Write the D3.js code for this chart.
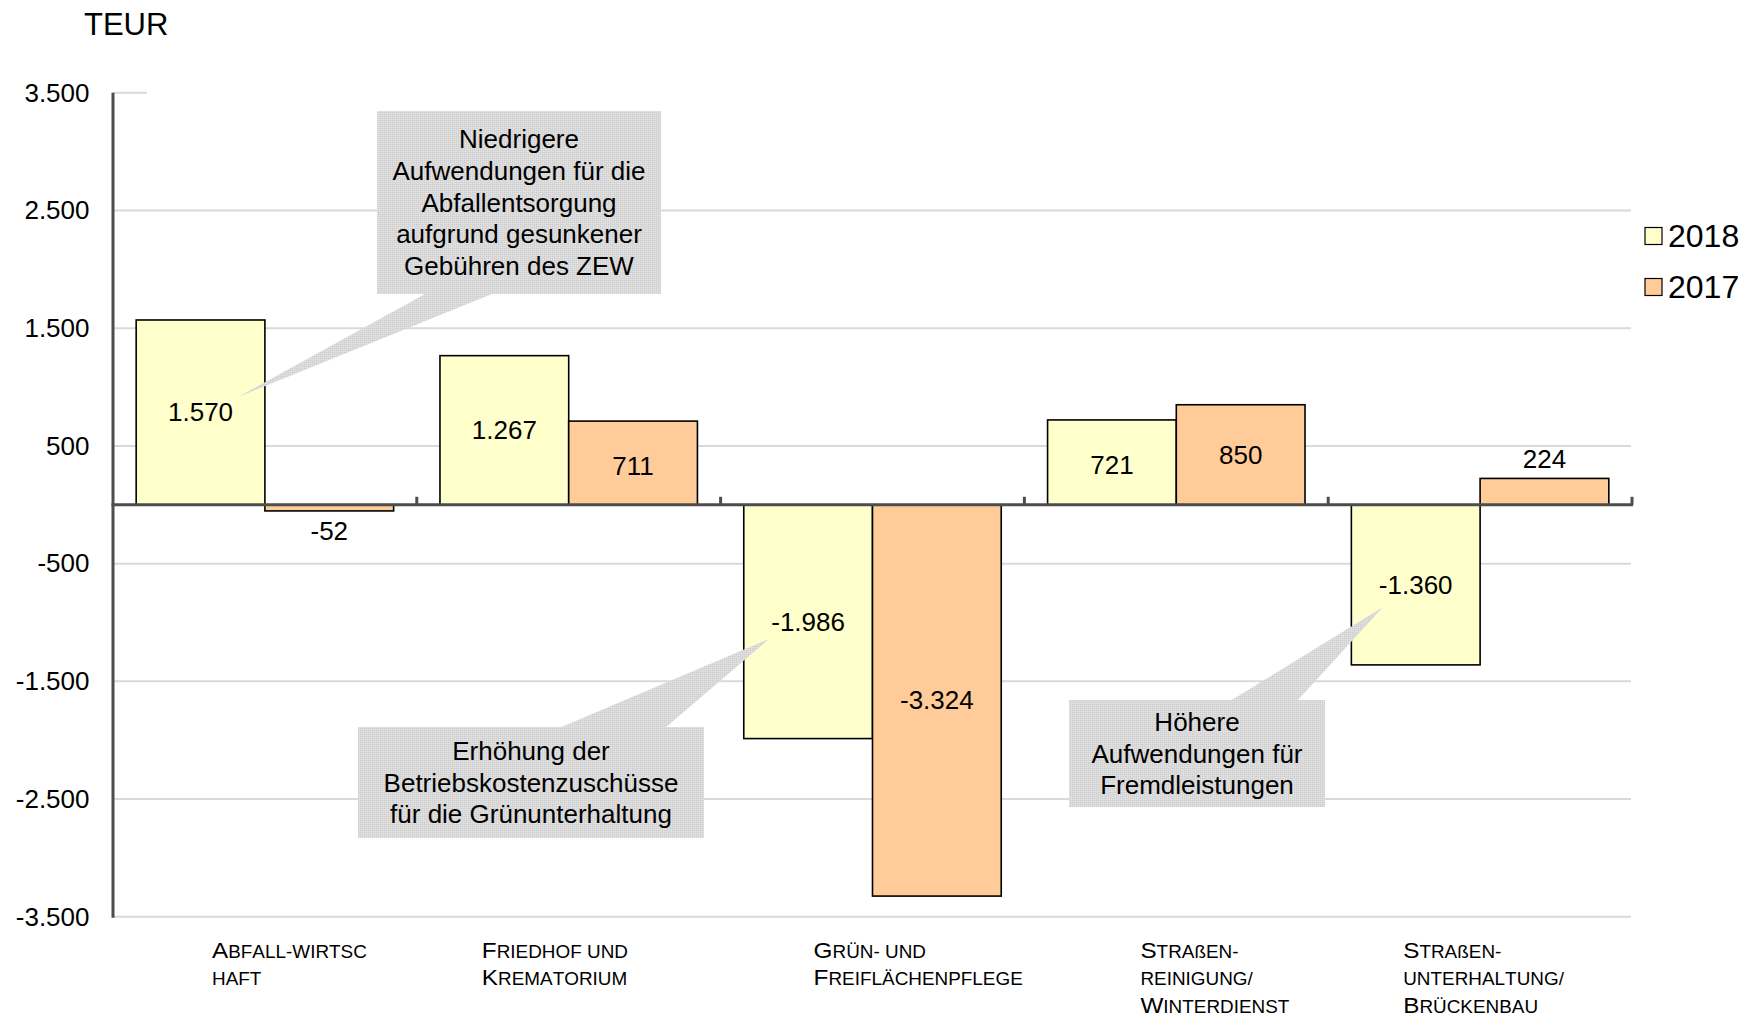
<!DOCTYPE html>
<html>
<head>
<meta charset="utf-8">
<script src="https://cdn.jsdelivr.net/npm/d3@7"></script>
<style>
  html, body { margin: 0; padding: 0; background: #ffffff; }
  svg { display: block; }
  text { font-family: "Liberation Sans", Arial, sans-serif; fill: #000; }
</style>
</head>
<body>
<svg id="chart" width="1753" height="1019"></svg>
<script>
// ---------- data ----------
const categories = [
  "Abfall-wirtschaft",
  "Friedhof und Krematorium",
  "Grün- und Freiflächenpflege",
  "Straßen-reinigung/ Winterdienst",
  "Straßen-unterhaltung/ Brückenbau"
];
const categoryLines = [
  ["Abfall-wirtsc", "haft"],
  ["Friedhof und", "Krematorium"],
  ["Grün- und", "Freiflächenpflege"],
  ["Straßen-", "reinigung/", "Winterdienst"],
  ["Straßen-", "unterhaltung/", "Brückenbau"]
];
const seriesNames = ["2018", "2017"];
const values2018 = [1570, 1267, -1986, 721, -1360];
const values2017 = [-52, 711, -3324, 850, 224];
const yTickValues = [-3500, -2500, -1500, -500, 500, 1500, 2500, 3500];
const unitLabel = "TEUR";
const callouts = [
  ["Niedrigere", "Aufwendungen für die", "Abfallentsorgung", "aufgrund gesunkener", "Gebühren des ZEW"],
  ["Erhöhung der", "Betriebskostenzuschüsse", "für die Grünunterhaltung"],
  ["Höhere", "Aufwendungen für", "Fremdleistungen"]
];

// ---------- layout / style ----------
const colors = { "2018": "#FFFFCC", "2017": "#FFCC99" };
const plot = { left: 113, right: 1632, top: 92.8, bottom: 916.8 };
const labelOffsets = [99, 65, 93, 116, 75];   // x offset of category labels inside band
const calloutBoxes = [
  { x: 377, y: 111, w: 284, h: 183, ptr: [[425, 294], [492, 294], [238, 397]] },
  { x: 358, y: 727, w: 346, h: 111, ptr: [[559, 728], [665, 728], [769, 639]] },
  { x: 1069, y: 700, w: 256, h: 107, ptr: [[1230, 701], [1297, 701], [1383, 607]] }
];

const svg = d3.select("#chart");
const de = d3.formatLocale({ decimal: ",", thousands: ".", grouping: [3], currency: ["", " €"], minus: "-" });
const fmt = de.format(",d");

const y = d3.scaleLinear().domain([-3500, 3500]).range([plot.bottom, plot.top]);
const x0 = d3.scaleBand().domain(categories).range([plot.left, plot.right]).paddingInner(0).paddingOuter(0);
const x1 = d3.scaleBand().domain(seriesNames).range([0, x0.bandwidth()]).paddingInner(0).paddingOuter(0.18);

// pattern for callout texture
const defs = svg.append("defs");
const pat = defs.append("pattern").attr("id", "dither").attr("width", 2).attr("height", 2)
  .attr("patternUnits", "userSpaceOnUse");
pat.append("rect").attr("width", 2).attr("height", 2).attr("fill", "#dadada");
pat.append("rect").attr("width", 1).attr("height", 1).attr("fill", "#cfcfcf");
pat.append("rect").attr("x", 1).attr("y", 1).attr("width", 1).attr("height", 1).attr("fill", "#e2e2e2");

// ---------- gridlines ----------
const grid = svg.append("g");
yTickValues.forEach(v => {
  const short = v === 3500;
  grid.append("line")
    .attr("x1", plot.left).attr("x2", short ? plot.left + 34 : plot.right - 1)
    .attr("y1", y(v)).attr("y2", y(v))
    .attr("stroke", "#d9d9d9").attr("stroke-width", 2);
});

// ---------- y axis (labels only) ----------
const yAxis = d3.axisLeft(y).tickValues(yTickValues).tickFormat(fmt).tickSize(0).tickPadding(0);
const gy = svg.append("g").attr("transform", `translate(${plot.left - 23.5},0)`).call(yAxis);
gy.select(".domain").remove();
gy.selectAll("text").style("font-size", "26px").style("font-family", '"Liberation Sans", Arial, sans-serif')
  .attr("fill", "#000");

// unit label
svg.append("text").attr("x", 84).attr("y", 34.5).style("font-size", "31px").text(unitLabel);

// ---------- bars ----------
const rows = categories.map((c, i) => ({ cat: c, vals: [
  { s: "2018", v: values2018[i] }, { s: "2017", v: values2017[i] }] }));

const groups = svg.append("g").selectAll("g").data(rows).join("g")
  .attr("transform", d => `translate(${x0(d.cat)},0)`);

groups.selectAll("rect").data(d => d.vals).join("rect")
  .attr("x", d => x1(d.s))
  .attr("width", x1.bandwidth())
  .attr("y", d => y(Math.max(0, d.v)))
  .attr("height", d => Math.abs(y(d.v) - y(0)))
  .attr("fill", d => colors[d.s])
  .attr("stroke", "#000").attr("stroke-width", 1.6);

// ---------- callouts ----------
const cg = svg.append("g");
calloutBoxes.forEach((b, i) => {
  cg.append("polygon").attr("points", b.ptr.map(p => p.join(",")).join(" ")).attr("fill", "url(#dither)");
  cg.append("rect").attr("x", b.x).attr("y", b.y).attr("width", b.w).attr("height", b.h).attr("fill", "url(#dither)");
  const lines = callouts[i];
  const lh = 31.8;
  const cy = b.y + b.h / 2;
  lines.forEach((t, j) => {
    cg.append("text")
      .attr("x", b.x + b.w / 2)
      .attr("y", cy + (j - (lines.length - 1) / 2) * lh)
      .attr("text-anchor", "middle").attr("dominant-baseline", "central")
      .style("font-size", "26px").text(t);
  });
});

// ---------- value labels ----------
groups.selectAll("text.val").data(d => d.vals).join("text").attr("class", "val")
  .attr("x", d => x1(d.s) + x1.bandwidth() / 2)
  .attr("y", d => {
    const h = Math.abs(y(d.v) - y(0));
    if (h > 45) return (y(d.v) + y(0)) / 2 + (h < 100 ? 3 : 0);
    return d.v < 0 ? y(d.v) + 20 : y(d.v) - 19;
  })
  .attr("text-anchor", "middle").attr("dominant-baseline", "central")
  .style("font-size", "26px")
  .text(d => fmt(d.v));

// ---------- axes lines ----------
svg.append("line").attr("x1", plot.left).attr("x2", plot.left).attr("y1", plot.top).attr("y2", plot.bottom + 1)
  .attr("stroke", "#4d4d4d").attr("stroke-width", 3);
svg.append("line").attr("x1", plot.left - 1.5).attr("x2", plot.right + 1).attr("y1", y(0)).attr("y2", y(0))
  .attr("stroke", "#4d4d4d").attr("stroke-width", 3);
categories.forEach(c => {
  const xe = x0(c) + x0.bandwidth();
  svg.append("line").attr("x1", xe).attr("x2", xe).attr("y1", y(0)).attr("y2", y(0) - 8)
    .attr("stroke", "#4d4d4d").attr("stroke-width", 3);
});

// ---------- category labels (small caps) ----------
const lab = svg.append("g");
categoryLines.forEach((lines, i) => {
  const xl = x0(categories[i]) + labelOffsets[i];
  const t = lab.append("text").attr("transform", `translate(${xl},0) scale(1.08,1)`);
  lines.forEach((ln, j) => {
    const base = 958 + j * 27.5;
    [...ln].forEach((ch, k) => {
      const isCap = ch !== ch.toLowerCase() && ch === ch.toUpperCase();
      const sp = t.append("tspan")
        .style("font-size", isCap ? "22.5px" : "17.5px")
        .text(ch === "ß" ? "ß" : ch.toUpperCase());
      if (k === 0) sp.attr("x", 0).attr("y", base);
    });
  });
});

// ---------- legend ----------
const lg = svg.append("g");
seriesNames.forEach((s, i) => {
  const cy = 236 + i * 51;
  lg.append("rect").attr("x", 1645).attr("y", cy - 8.5).attr("width", 17).attr("height", 17)
    .attr("fill", colors[s]).attr("stroke", "#000").attr("stroke-width", 1.2);
  lg.append("text").attr("x", 1668).attr("y", cy).attr("dominant-baseline", "central")
    .style("font-size", "32px").text(s);
});
</script>
</body>
</html>
